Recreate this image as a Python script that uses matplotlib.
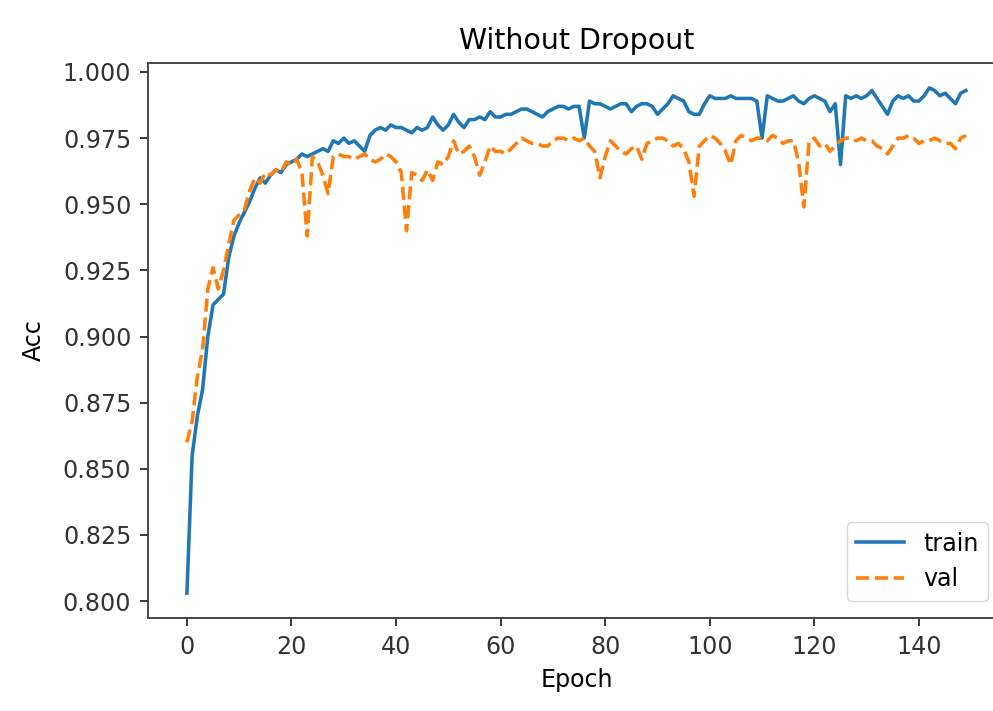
import matplotlib
matplotlib.use("Agg")
import matplotlib.pyplot as plt

epochs = list(range(150))

train_acc = [
    0.803, 0.855, 0.870, 0.880, 0.900, 0.912, 0.914, 0.916, 0.930, 0.938,
    0.943, 0.947, 0.951, 0.956, 0.960, 0.958, 0.961, 0.963, 0.962, 0.965,
    0.966, 0.967, 0.969, 0.968, 0.969, 0.970, 0.971, 0.970, 0.974, 0.973,
    0.975, 0.973, 0.974, 0.972, 0.970, 0.976, 0.978, 0.979, 0.978, 0.980,
    0.979, 0.979, 0.978, 0.977, 0.979, 0.978, 0.979, 0.983, 0.980, 0.978,
    0.980, 0.984, 0.981, 0.979, 0.982, 0.982, 0.983, 0.982, 0.985, 0.983,
    0.983, 0.984, 0.984, 0.985, 0.986, 0.986, 0.985, 0.984, 0.983, 0.985,
    0.986, 0.987, 0.987, 0.986, 0.987, 0.987, 0.975, 0.989, 0.988, 0.988,
    0.987, 0.986, 0.987, 0.988, 0.988, 0.985, 0.987, 0.988, 0.988, 0.987,
    0.984, 0.986, 0.988, 0.991, 0.990, 0.989, 0.985, 0.984, 0.984, 0.988,
    0.991, 0.990, 0.990, 0.990, 0.991, 0.990, 0.990, 0.990, 0.990, 0.989,
    0.975, 0.991, 0.990, 0.989, 0.989, 0.990, 0.991, 0.989, 0.988, 0.990,
    0.991, 0.990, 0.989, 0.985, 0.988, 0.965, 0.991, 0.990, 0.991, 0.990,
    0.991, 0.993, 0.990, 0.987, 0.984, 0.989, 0.991, 0.990, 0.991, 0.989,
    0.989, 0.991, 0.994, 0.993, 0.991, 0.992, 0.990, 0.988, 0.992, 0.993,
]

val_acc = [
    0.860, 0.868, 0.885, 0.895, 0.918, 0.926, 0.918, 0.925, 0.935, 0.944,
    0.946, 0.948, 0.955, 0.960, 0.958, 0.962, 0.961, 0.963, 0.962, 0.966,
    0.965, 0.967, 0.962, 0.938, 0.968, 0.966, 0.961, 0.954, 0.968, 0.969,
    0.968, 0.968, 0.967, 0.968, 0.969, 0.967, 0.966, 0.967, 0.969, 0.968,
    0.966, 0.962, 0.940, 0.962, 0.961, 0.959, 0.963, 0.959, 0.966, 0.965,
    0.968, 0.974, 0.969, 0.970, 0.972, 0.968, 0.961, 0.966, 0.972, 0.970,
    0.970, 0.969, 0.971, 0.973, 0.975, 0.974, 0.973, 0.973, 0.972, 0.972,
    0.974, 0.975, 0.975, 0.974, 0.975, 0.974, 0.975, 0.972, 0.970, 0.960,
    0.968, 0.974, 0.972, 0.970, 0.969, 0.971, 0.972, 0.967, 0.973, 0.974,
    0.975, 0.975, 0.974, 0.972, 0.973, 0.971, 0.966, 0.953, 0.972, 0.974,
    0.976, 0.975, 0.973, 0.970, 0.965, 0.974, 0.976, 0.975, 0.974, 0.975,
    0.975, 0.974, 0.976, 0.975, 0.973, 0.974, 0.974, 0.966, 0.949, 0.974,
    0.975, 0.972, 0.973, 0.970, 0.972, 0.974, 0.975, 0.975, 0.974, 0.975,
    0.974, 0.974, 0.972, 0.971, 0.969, 0.972, 0.975, 0.975, 0.976, 0.975,
    0.973, 0.974, 0.974, 0.975, 0.974, 0.973, 0.973, 0.971, 0.975, 0.976,
]

sc = 1.71  # scale from the default look
plt.rcParams['font.size'] = 10 * sc

fig = plt.figure(figsize=(9.93, 7.11), dpi=100)
# the original screenshot cuts off the right side of the axes
ax = fig.add_axes([0.149, 0.1308, 0.863, 0.7806])

ax.plot(epochs, train_acc, color='#1f77b4', lw=1.5 * sc, label='train')
ax.plot(epochs, val_acc, color='#ff7f0e', lw=1.5 * sc, ls='--', label='val')

ax.set_xlim(-7.45, 156.45)
ax.set_ylim(0.7936, 1.0034)
ax.set_yticks([0.800, 0.825, 0.850, 0.875, 0.900, 0.925, 0.950, 0.975, 1.000])
ax.set_xticks([0, 20, 40, 60, 80, 100, 120, 140])

ax.set_title('Without Dropout', fontsize=12 * sc, pad=6 * sc)
ax.set_xlabel('Epoch', labelpad=4 * sc)
ax.set_ylabel('Acc', labelpad=12)
ax.tick_params(length=3.5 * sc, width=0.8 * sc, pad=3.5 * sc, colors='#333333', labelcolor='#333333')
for s in ax.spines.values():
    s.set_linewidth(0.8 * sc)
    s.set_color('#444444')

ax.legend(loc='lower right', fontsize=10 * sc, borderaxespad=0.72)

plt.savefig('out.png', dpi=100)
